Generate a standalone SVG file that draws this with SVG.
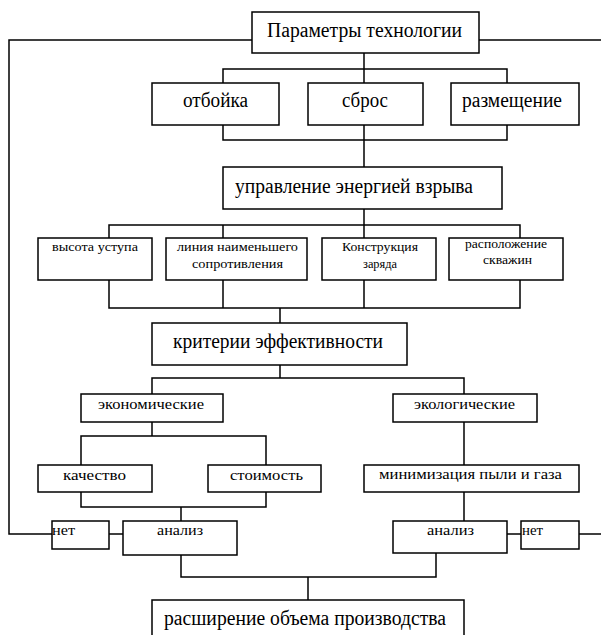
<svg xmlns="http://www.w3.org/2000/svg" width="601" height="635" viewBox="0 0 601 635" font-family="'Liberation Serif', 'DejaVu Serif', serif">
<style>
.box{fill:#fff;stroke:#000;stroke-width:1.5}
.ln{fill:none;stroke:#000;stroke-width:1.5}
text{fill:#000}
.b{font-size:20px}
.m{font-size:14px}
.s{font-size:11.5px}
</style>
<rect width="601" height="635" fill="#fff"/>
<g id="connectors" class="ln">
<polyline points="252,40 9,40 9,534 52,534"/>
<polyline points="479,40 601,40"/>
<polyline points="364,53 364,69"/>
<polyline points="223,83 223,69 507,69 507,83"/>
<polyline points="364,69 364,83"/>
<polyline points="223,125 223,140 507,140 507,125"/>
<polyline points="364,125 364,167"/>
<polyline points="364,209 364,225"/>
<polyline points="109,238 109,225 520,225 520,238"/>
<polyline points="223,225 223,238"/>
<polyline points="364,225 364,238"/>
<polyline points="109,280 109,308 520,308 520,280"/>
<polyline points="223,280 223,308"/>
<polyline points="364,280 364,308"/>
<polyline points="280,308 280,323"/>
<polyline points="280,365 280,378"/>
<polyline points="152,394 152,378 464,378 464,394"/>
<polyline points="152,422 152,436"/>
<polyline points="81,465 81,436 266,436 266,465"/>
<polyline points="81,492 81,507 266,507 266,492"/>
<polyline points="181,507 181,521"/>
<polyline points="464,422 464,465"/>
<polyline points="464,492 464,521"/>
<polyline points="109,534 123,534"/>
<polyline points="507,534 521,534"/>
<polyline points="579,534 601,534"/>
<polyline points="181,555 181,577 436,577 436,553"/>
<polyline points="308,577 308,603"/>
</g>
<g id="params"><rect class="box" x="252" y="12" width="227" height="41"/><text class="b" x="267" y="37" textLength="195" lengthAdjust="spacingAndGlyphs">Параметры технологии</text></g>
<g id="otboika"><rect class="box" x="152" y="83" width="127" height="42"/><text class="b" x="183" y="107" textLength="65" lengthAdjust="spacingAndGlyphs">отбойка</text></g>
<g id="sbros"><rect class="box" x="308" y="83" width="115" height="42"/><text class="b" x="342" y="107" textLength="46" lengthAdjust="spacingAndGlyphs">сброс</text></g>
<g id="razmeshenie"><rect class="box" x="451" y="83" width="128" height="42"/><text class="b" x="462" y="107" textLength="100" lengthAdjust="spacingAndGlyphs">размещение</text></g>
<g id="upravlenie"><rect class="box" x="223" y="167" width="279" height="42"/><text class="b" x="235" y="193" textLength="238" lengthAdjust="spacingAndGlyphs">управление энергией взрыва</text></g>
<g id="vysota"><rect class="box" x="38" y="238" width="114" height="42"/><text class="s" x="52" y="251" textLength="86" lengthAdjust="spacingAndGlyphs">высота уступа</text></g>
<g id="liniya"><rect class="box" x="166" y="238" width="141" height="42"/><text class="s" x="177" y="251" textLength="121" lengthAdjust="spacingAndGlyphs">линия наименьшего</text><text class="s" x="192" y="268" textLength="91" lengthAdjust="spacingAndGlyphs">сопротивления</text></g>
<g id="konstrukciya"><rect class="box" x="322" y="238" width="114" height="42"/><text class="s" x="342" y="251" textLength="76" lengthAdjust="spacingAndGlyphs">Конструкция</text><text class="s" x="363" y="268" textLength="34" lengthAdjust="spacingAndGlyphs">заряда</text></g>
<g id="raspolozhenie"><rect class="box" x="449" y="238" width="114" height="42"/><text class="s" x="465" y="248" textLength="82" lengthAdjust="spacingAndGlyphs">расположение</text><text class="s" x="483" y="264" textLength="49" lengthAdjust="spacingAndGlyphs">скважин</text></g>
<g id="kriterii"><rect class="box" x="152" y="323" width="255" height="42"/><text class="b" x="173" y="348" textLength="210" lengthAdjust="spacingAndGlyphs">критерии эффективности</text></g>
<g id="ekonom"><rect class="box" x="81" y="394" width="142" height="28"/><text class="m" x="98" y="409" textLength="106" lengthAdjust="spacingAndGlyphs">экономические</text></g>
<g id="ekolog"><rect class="box" x="393" y="394" width="144" height="28"/><text class="m" x="414" y="409" textLength="101" lengthAdjust="spacingAndGlyphs">экологические</text></g>
<g id="kachestvo"><rect class="box" x="38" y="465" width="114" height="27"/><text class="m" x="63" y="480" textLength="63" lengthAdjust="spacingAndGlyphs">качество</text></g>
<g id="stoimost"><rect class="box" x="208" y="465" width="113" height="27"/><text class="m" x="230" y="480" textLength="73" lengthAdjust="spacingAndGlyphs">стоимость</text></g>
<g id="minim"><rect class="box" x="364" y="465" width="215" height="27"/><text class="m" x="379" y="479" textLength="183" lengthAdjust="spacingAndGlyphs">минимизация  пыли и газа</text></g>
<g id="net-left"><rect class="box" x="52" y="521" width="57" height="28"/><text class="m" x="52" y="535" textLength="23" lengthAdjust="spacingAndGlyphs">нет</text></g>
<g id="analiz-left"><rect class="box" x="123" y="521" width="114" height="34"/><text class="m" x="157" y="535" textLength="46" lengthAdjust="spacingAndGlyphs">анализ</text></g>
<g id="analiz-right"><rect class="box" x="393" y="521" width="114" height="32"/><text class="m" x="427" y="535" textLength="47" lengthAdjust="spacingAndGlyphs">анализ</text></g>
<g id="net-right"><rect class="box" x="521" y="521" width="58" height="28"/><text class="m" x="522" y="535" textLength="21" lengthAdjust="spacingAndGlyphs">нет</text></g>
<g id="rasshirenie"><rect class="box" x="152" y="600" width="312" height="40"/><text class="b" x="164" y="625" textLength="282" lengthAdjust="spacingAndGlyphs">расширение объема производства</text></g>
</svg>
